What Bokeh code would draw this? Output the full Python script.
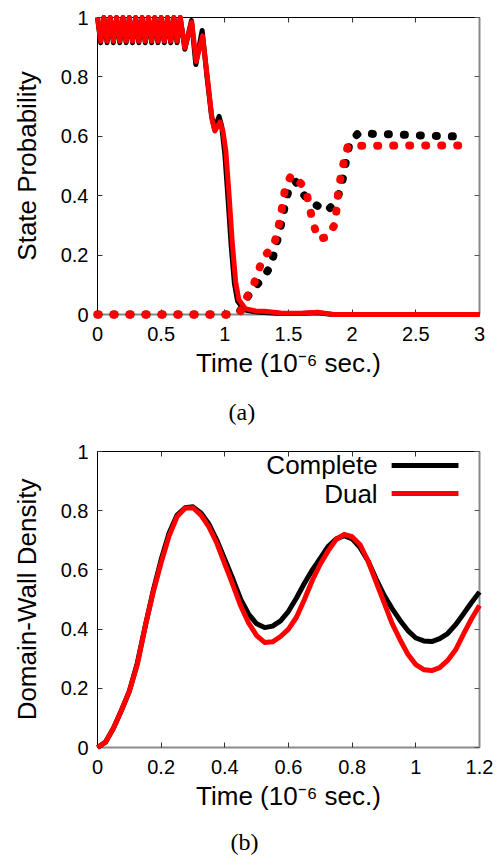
from bokeh.plotting import figure
from bokeh.models import Range1d, LinearAxis, FixedTicker, Title, Label
from bokeh.layouts import column
from bokeh.embed import file_html
from bokeh.resources import INLINE

# ---------------- data ----------------
y_ticks = [0, 0.2, 0.4, 0.6, 0.8, 1]
y_tick_labels = ["0", "0.2", "0.4", "0.6", "0.8", "1"]

a_x_ticks = [0, 0.5, 1, 1.5, 2, 2.5, 3]
a_x_tick_labels = ["0", "0.5", "1", "1.5", "2", "2.5", "3"]

b_x_ticks = [0, 0.2, 0.4, 0.6, 0.8, 1, 1.2]
b_x_tick_labels = ["0", "0.2", "0.4", "0.6", "0.8", "1", "1.2"]

# panel (a): solid curves (initial state probability)
a_black_solid_t = [0.000, 0.025, 0.050, 0.075, 0.100, 0.125, 0.150, 0.175, 0.200, 0.225,
                   0.250, 0.275, 0.300, 0.325, 0.350, 0.375, 0.400, 0.425, 0.450, 0.475,
                   0.500, 0.525, 0.550, 0.575, 0.600, 0.625, 0.650,
                   0.686, 0.738, 0.772, 0.822, 0.860, 0.895, 0.918, 0.955, 0.975, 1.000,
                   1.025, 1.050, 1.075, 1.100, 1.150, 1.250, 1.400, 1.600, 1.720, 1.850, 3.000]
a_black_solid_v = [1.000, 0.915, 1.000, 0.915, 1.000, 0.915, 1.000, 0.915, 1.000, 0.915,
                   1.000, 0.915, 1.000, 0.915, 1.000, 0.915, 1.000, 0.915, 1.000, 0.915,
                   1.000, 0.915, 1.000, 0.915, 1.000, 0.915, 1.000,
                   0.893, 0.990, 0.842, 0.956, 0.800, 0.670, 0.625, 0.667, 0.635, 0.540,
                   0.390, 0.230, 0.105, 0.045, 0.016, 0.008, 0.004, 0.003, 0.006, 0.000, 0.000]

a_red_solid_t = [0.000, 0.025, 0.050, 0.075, 0.100, 0.125, 0.150, 0.175, 0.200, 0.225,
                 0.250, 0.275, 0.300, 0.325, 0.350, 0.375, 0.400, 0.425, 0.450, 0.475,
                 0.500, 0.525, 0.550, 0.575, 0.600, 0.625, 0.650,
                 0.686, 0.740, 0.775, 0.825, 0.865, 0.900, 0.922, 0.962, 0.985, 1.008,
                 1.032, 1.058, 1.085, 1.110, 1.160, 1.240, 1.310, 1.440, 1.600, 1.730, 1.850, 3.000]
a_red_solid_v = [1.000, 0.920, 1.000, 0.920, 1.000, 0.920, 1.000, 0.920, 1.000, 0.920,
                 1.000, 0.920, 1.000, 0.920, 1.000, 0.920, 1.000, 0.920, 1.000, 0.920,
                 1.000, 0.920, 1.000, 0.920, 1.000, 0.920, 1.000,
                 0.897, 0.985, 0.852, 0.938, 0.790, 0.655, 0.618, 0.648, 0.618, 0.550,
                 0.410, 0.245, 0.110, 0.050, 0.020, 0.012, 0.011, 0.005, 0.004, 0.008, 0.000, 0.000]

# panel (a): dotted curves (final state probability)
a_black_dot_t = [0.000, 1.080, 1.120, 1.176, 1.230, 1.306, 1.359, 1.390, 1.420, 1.450,
                 1.470, 1.503, 1.555, 1.626, 1.700, 1.797, 1.870, 1.909, 1.935, 1.956,
                 1.982, 2.048, 2.166, 2.300, 2.530, 2.760, 2.900]
a_black_dot_v = [0.000, 0.000, 0.012, 0.058, 0.090, 0.126, 0.163, 0.212, 0.263, 0.319,
                 0.364, 0.423, 0.448, 0.400, 0.373, 0.348, 0.375, 0.423, 0.474, 0.528,
                 0.580, 0.610, 0.608, 0.607, 0.603, 0.600, 0.599]

a_red_dot_t = [0.000, 1.080, 1.123, 1.170, 1.228, 1.267, 1.300, 1.380, 1.410, 1.437,
               1.456, 1.477, 1.524, 1.600, 1.640, 1.668, 1.694, 1.733, 1.804, 1.862,
               1.877, 1.890, 1.909, 1.935, 1.966, 2.020, 2.500, 2.900]
a_red_dot_v = [0.000, 0.000, 0.011, 0.056, 0.103, 0.150, 0.193, 0.227, 0.272, 0.328,
               0.378, 0.434, 0.470, 0.440, 0.412, 0.356, 0.307, 0.255, 0.260, 0.302,
               0.352, 0.412, 0.460, 0.516, 0.567, 0.568, 0.569, 0.569]

# panel (b): domain-wall density
b_t = [0.000, 0.025, 0.050, 0.075, 0.100, 0.125, 0.150, 0.175, 0.200, 0.225,
       0.250, 0.275, 0.300, 0.325, 0.350, 0.375, 0.400, 0.425, 0.450, 0.475,
       0.500, 0.525, 0.550, 0.575, 0.600, 0.625, 0.650, 0.675, 0.700, 0.725,
       0.750, 0.775, 0.800, 0.825, 0.850, 0.875, 0.900, 0.925, 0.950, 0.975,
       1.000, 1.025, 1.050, 1.075, 1.100, 1.125, 1.150, 1.175, 1.200]
b_complete = [0.000, 0.018, 0.065, 0.125, 0.190, 0.285, 0.410, 0.530, 0.635, 0.725,
              0.785, 0.810, 0.813, 0.792, 0.755, 0.700, 0.635, 0.570, 0.500, 0.450,
              0.418, 0.405, 0.410, 0.428, 0.460, 0.505, 0.555, 0.600, 0.640, 0.680,
              0.705, 0.716, 0.705, 0.675, 0.630, 0.570, 0.515, 0.470, 0.430, 0.395,
              0.370, 0.360, 0.358, 0.368, 0.385, 0.415, 0.452, 0.490, 0.525]
b_dual = [0.000, 0.018, 0.065, 0.125, 0.190, 0.280, 0.410, 0.525, 0.625, 0.715,
          0.780, 0.808, 0.810, 0.785, 0.745, 0.690, 0.620, 0.550, 0.478, 0.420,
          0.378, 0.355, 0.357, 0.375, 0.400, 0.440, 0.500, 0.565, 0.620, 0.665,
          0.703, 0.720, 0.712, 0.685, 0.630, 0.560, 0.490, 0.420, 0.365, 0.315,
          0.280, 0.263, 0.260, 0.270, 0.294, 0.330, 0.384, 0.435, 0.480]

legend_names = ["Complete", "Dual"]
legend_colors = ["black", "red"]

# ---------------- styling helpers ----------------
FONT = "Liberation Sans"
XLABEL = "Time (10\u207b\u2076 sec.)"
GRAY = "#8a8a8a"


def style_fig(p, x_ticks, x_tick_labels, y_label):
    p.xgrid.visible = False
    p.ygrid.visible = False
    p.outline_line_color = None
    p.background_fill_color = "white"
    p.border_fill_color = "white"

    xa = p.xaxis[0]
    xa.ticker = FixedTicker(ticks=x_ticks)
    xa.major_label_overrides = {t: l for t, l in zip(x_ticks, x_tick_labels)}
    xa.axis_label = XLABEL
    xa.axis_line_color = GRAY
    xa.axis_line_width = 2
    xa.major_tick_line_color = "#333333"
    xa.major_tick_in = 5
    xa.major_tick_out = 0
    xa.minor_tick_in = 0
    xa.minor_tick_out = 0
    xa.major_label_standoff = 12
    xa.major_label_text_font = FONT
    xa.major_label_text_font_size = "20px"
    xa.major_label_text_color = "black"
    xa.axis_label_text_font = FONT
    xa.axis_label_text_font_size = "26px"
    xa.axis_label_text_font_style = "normal"
    xa.axis_label_text_color = "black"
    xa.axis_label_standoff = 4

    ya = p.yaxis[0]
    ya.ticker = FixedTicker(ticks=y_ticks)
    ya.major_label_overrides = {t: l for t, l in zip(y_ticks, y_tick_labels)}
    ya.axis_label = y_label
    ya.axis_line_color = "black"
    ya.axis_line_width = 1
    ya.major_tick_line_color = "#333333"
    ya.major_tick_in = 5
    ya.major_tick_out = 0
    ya.minor_tick_in = 0
    ya.minor_tick_out = 0
    ya.major_label_standoff = 9
    ya.major_label_text_font = FONT
    ya.major_label_text_font_size = "20px"
    ya.major_label_text_color = "black"
    ya.axis_label_text_font = FONT
    ya.axis_label_text_font_size = "26px"
    ya.axis_label_text_font_style = "normal"
    ya.axis_label_text_color = "black"
    ya.axis_label_standoff = 16

    top = LinearAxis(ticker=FixedTicker(ticks=x_ticks), axis_line_color="black",
                     axis_line_width=1, major_tick_in=5, major_tick_out=0,
                     minor_tick_in=0, minor_tick_out=0, major_tick_line_color="#333333",
                     major_label_text_font_size="1px", major_label_text_color=None,
                     major_label_standoff=0)
    p.add_layout(top, "above")
    right = LinearAxis(ticker=FixedTicker(ticks=y_ticks), axis_line_color=GRAY,
                       axis_line_width=2, major_tick_in=5, major_tick_out=0,
                       minor_tick_in=0, minor_tick_out=0, major_tick_line_color="#555555",
                       major_label_text_font_size="1px", major_label_text_color=None,
                       major_label_standoff=0)
    p.add_layout(right, "right")


# ---------------- panel (a) ----------------
pa = figure(width=503, height=440, x_range=Range1d(0, 3), y_range=Range1d(0, 1),
            output_backend="svg", toolbar_location=None,
            min_border_left=97, min_border_right=24, min_border_top=17, min_border_bottom=126)
style_fig(pa, a_x_ticks, a_x_tick_labels, "State Probability")

ra = [
    pa.line(a_black_solid_t, a_black_solid_v, line_color="black", line_width=5, line_join="round"),
    pa.line(a_red_solid_t, a_red_solid_v, line_color="red", line_width=5, line_join="round"),
    pa.line(a_black_dot_t, a_black_dot_v, line_color="black", line_width=8,
            line_dash="1 15", line_cap="round"),
    pa.line(a_red_dot_t, a_red_dot_v, line_color="red", line_width=8,
            line_dash="1 15", line_cap="round"),
]
for r in ra:
    r.level = "overlay"

pa.add_layout(Title(text="(a)", text_font="Liberation Serif", text_font_size="24px",
                    text_font_style="normal", text_color="black", align="left",
                    offset=131, standoff=32), "below")

# ---------------- panel (b) ----------------
pb = figure(width=503, height=427, x_range=Range1d(0, 1.2), y_range=Range1d(0, 1),
            output_backend="svg", toolbar_location=None,
            min_border_left=97, min_border_right=24, min_border_top=11, min_border_bottom=120)
style_fig(pb, b_x_ticks, b_x_tick_labels, "Domain-Wall Density")

rb = [
    pb.line(b_t, b_complete, line_color="black", line_width=5, line_join="round"),
    pb.line(b_t, b_dual, line_color="red", line_width=5, line_join="round"),
]
for r in rb:
    r.level = "overlay"

# legend (label to the left of its line sample)
LEG_TEXT_X = 0.88
LEG_LINE_X0 = 0.924
LEG_LINE_X1 = 1.134
LEG_Y = [0.953, 0.858]
for name, col, yy in zip(legend_names, legend_colors, LEG_Y):
    pb.add_layout(Label(x=LEG_TEXT_X, y=yy, text=name, text_align="right",
                        text_baseline="middle", text_font=FONT, text_font_size="26px",
                        text_color="black"))
pb.segment(x0=[LEG_LINE_X0] * 2, y0=LEG_Y, x1=[LEG_LINE_X1] * 2, y1=LEG_Y,
           line_color=legend_colors, line_width=5)

pb.add_layout(Title(text="(b)", text_font="Liberation Serif", text_font_size="24px",
                    text_font_style="normal", text_color="black", align="left",
                    offset=133, standoff=26), "below")

layout = column(pa, pb)
open("out.html", "w").write(file_html(layout, INLINE))
